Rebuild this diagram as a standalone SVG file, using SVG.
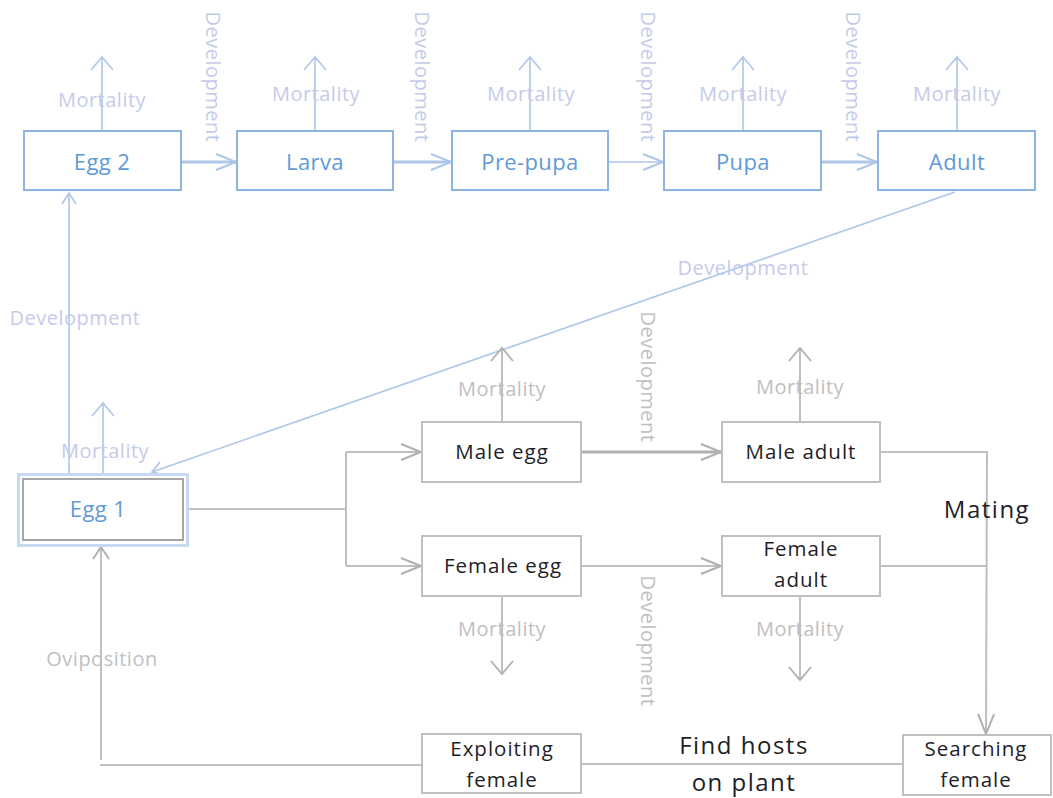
<svg xmlns="http://www.w3.org/2000/svg" width="1053" height="798" viewBox="0 0 1053 798">
<style>
.bbox{fill:#fff;stroke:#8eb4e3;stroke-width:2}
.gbox{fill:#fff;stroke:#bfbfbf;stroke-width:2}
.btxt{font-family:"Open Sans",sans-serif;font-size:22px;fill:#5f9bd6;text-anchor:middle;letter-spacing:0.4px}
.dtxt{font-family:"Open Sans",sans-serif;font-size:20.5px;fill:#1e1e28;text-anchor:middle;letter-spacing:1px}
.big{font-family:"Open Sans",sans-serif;font-size:24px;fill:#1e1e28;text-anchor:middle;letter-spacing:1.5px}
.bl{font-family:"Open Sans",sans-serif;font-size:20px;fill:#c4cbea;text-anchor:middle;letter-spacing:0.5px}
.gl{font-family:"Open Sans",sans-serif;font-size:20px;fill:#c0c0c0;text-anchor:middle;letter-spacing:0.5px}
.bc{fill:none;stroke:#adc6e9;stroke-width:1.6}
.bct{fill:none;stroke:#adc6e9;stroke-width:3}
.gc{fill:none;stroke:#bfbfbf;stroke-width:2}
.gct{fill:none;stroke:#b0b0b0;stroke-width:3}
</style>
<defs>
<marker id="bLong" markerUnits="userSpaceOnUse" orient="auto" refX="0" refY="0" markerWidth="30" markerHeight="30" overflow="visible"><path d="M-20,-8 L0,0 L-20,8" fill="none" stroke="#adc6e9" stroke-width="2"/></marker>
<marker id="bWide" markerUnits="userSpaceOnUse" orient="auto" refX="0" refY="0" markerWidth="30" markerHeight="30" overflow="visible"><path d="M-13,-11 L0,0 L-13,11" fill="none" stroke="#adc6e9" stroke-width="1.6"/></marker>
<marker id="bSmall" markerUnits="userSpaceOnUse" orient="auto" refX="0" refY="0" markerWidth="30" markerHeight="30" overflow="visible"><path d="M-11,-7 L0,0 L-11,7" fill="none" stroke="#adc6e9" stroke-width="1.6"/></marker>
<marker id="gLong" markerUnits="userSpaceOnUse" orient="auto" refX="0" refY="0" markerWidth="30" markerHeight="30" overflow="visible"><path d="M-20,-8 L0,0 L-20,8" fill="none" stroke="#b0b0b0" stroke-width="2"/></marker>
<marker id="gWide" markerUnits="userSpaceOnUse" orient="auto" refX="0" refY="0" markerWidth="30" markerHeight="30" overflow="visible"><path d="M-13,-11 L0,0 L-13,11" fill="none" stroke="#b0b0b0" stroke-width="1.8"/></marker>
<marker id="gSmall" markerUnits="userSpaceOnUse" orient="auto" refX="0" refY="0" markerWidth="30" markerHeight="30" overflow="visible"><path d="M-12,-8 L0,0 L-12,8" fill="none" stroke="#b0b0b0" stroke-width="2"/></marker>
</defs>

<g id="connectors">
  <!-- top row development -->
  <path class="bct" d="M181,162 H236" marker-end="url(#bLong)"/>
  <path class="bct" d="M393,162 H451" marker-end="url(#bLong)"/>
  <path class="bc" d="M608,162 H663" marker-end="url(#bLong)"/>
  <path class="bct" d="M821,162 H877" marker-end="url(#bLong)"/>
  <!-- top row mortality -->
  <path class="bc" d="M102,131 V57" marker-end="url(#bWide)"/>
  <path class="bc" d="M315,131 V57" marker-end="url(#bWide)"/>
  <path class="bc" d="M530,131 V57" marker-end="url(#bWide)"/>
  <path class="bc" d="M743,131 V57" marker-end="url(#bWide)"/>
  <path class="bc" d="M957,131 V57" marker-end="url(#bWide)"/>
  <!-- egg1 -->
  <path class="bc" d="M103,473 V403" marker-end="url(#bWide)"/>
  <path class="bc" d="M69,473 V193" marker-end="url(#bSmall)"/>
  <path class="bc" d="M955,192 L152,472" marker-end="url(#bSmall)"/>
  <!-- branching -->
  <path class="gc" d="M188,509 H346"/>
  <path class="gc" d="M346,452 V566"/>
  <path class="gc" d="M346,452 H421" marker-end="url(#gLong)"/>
  <path class="gc" d="M346,566 H421" marker-end="url(#gLong)"/>
  <path class="gct" d="M581,452 H721" marker-end="url(#gLong)"/>
  <path class="gc" d="M581,566 H721" marker-end="url(#gLong)"/>
  <!-- gray mortality -->
  <path class="gc" d="M502,422 V348" marker-end="url(#gWide)"/>
  <path class="gc" d="M800,422 V348" marker-end="url(#gWide)"/>
  <path class="gc" d="M502,596 V674" marker-end="url(#gWide)"/>
  <path class="gc" d="M800,596 V680" marker-end="url(#gWide)"/>
  <!-- mating -->
  <path class="gc" d="M880,452 H987 L986,734" marker-end="url(#gLong)"/>
  <path class="gc" d="M880,566 H987"/>
  <!-- find hosts / oviposition -->
  <path class="gc" d="M903,764 H581"/>
  <path class="gc" d="M422,765 H100"/>
  <path class="gc" d="M101,760 V547" marker-end="url(#gSmall)"/>
</g>

<g id="labels">
  <text class="bl" x="102" y="107">Mortality</text>
  <text class="bl" x="316" y="101">Mortality</text>
  <text class="bl" x="531" y="101">Mortality</text>
  <text class="bl" x="743" y="101">Mortality</text>
  <text class="bl" x="957" y="101">Mortality</text>
  <text class="bl" transform="translate(206,77) rotate(90)">Development</text>
  <text class="bl" transform="translate(415,77) rotate(90)">Development</text>
  <text class="bl" transform="translate(641,77) rotate(90)">Development</text>
  <text class="bl" transform="translate(846,77) rotate(90)">Development</text>
  <text class="bl" x="75" y="325">Development</text>
  <text class="bl" x="743" y="275">Development</text>
  <text class="bl" x="105" y="458">Mortality</text>
  <text class="gl" x="502" y="396">Mortality</text>
  <text class="gl" x="800" y="394">Mortality</text>
  <text class="gl" x="502" y="636">Mortality</text>
  <text class="gl" x="800" y="636">Mortality</text>
  <text class="gl" transform="translate(641,377) rotate(90)">Development</text>
  <text class="gl" transform="translate(641,641) rotate(90)">Development</text>
  <text class="gl" x="102" y="666">Oviposition</text>
  <text class="big" x="987" y="518">Mating</text>
  <text class="big" x="744" y="754">Find hosts</text>
  <text class="big" x="744" y="791">on plant</text>
</g>

<g id="egg2"><rect class="bbox" x="24" y="131" width="157" height="59"/><text class="btxt" x="102" y="170">Egg 2</text></g>
<g id="larva"><rect class="bbox" x="237" y="131" width="156" height="59"/><text class="btxt" x="315" y="170">Larva</text></g>
<g id="prepupa"><rect class="bbox" x="452" y="131" width="156" height="59"/><text class="btxt" x="530" y="170">Pre-pupa</text></g>
<g id="pupa"><rect class="bbox" x="664" y="131" width="157" height="59"/><text class="btxt" x="743" y="170">Pupa</text></g>
<g id="adult"><rect class="bbox" x="878" y="131" width="157" height="59"/><text class="btxt" x="957" y="170">Adult</text></g>

<g id="egg1">
  <rect x="18.5" y="474.5" width="169" height="71" fill="#fff" stroke="#c6d9f0" stroke-width="3"/>
  <rect x="23" y="479" width="160" height="61" fill="#fff" stroke="#a6a6a6" stroke-width="2"/>
  <text class="btxt" x="98" y="517">Egg 1</text>
</g>

<g id="maleegg"><rect class="gbox" x="422" y="422" width="159" height="60"/><text class="dtxt" x="502" y="459">Male egg</text></g>
<g id="maleadult"><rect class="gbox" x="722" y="422" width="158" height="60"/><text class="dtxt" x="801" y="459">Male adult</text></g>
<g id="femaleegg"><rect class="gbox" x="422" y="536" width="159" height="60"/><text class="dtxt" x="503" y="573">Female egg</text></g>
<g id="femaleadult"><rect class="gbox" x="722" y="536" width="158" height="60"/><text class="dtxt" x="801" y="556">Female</text><text class="dtxt" x="801" y="587">adult</text></g>
<g id="searching"><rect class="gbox" x="903" y="735" width="148" height="60"/><text class="dtxt" x="976" y="756">Searching</text><text class="dtxt" x="976" y="787">female</text></g>
<g id="exploiting"><rect class="gbox" x="422" y="734" width="159" height="59"/><text class="dtxt" x="502" y="756">Exploiting</text><text class="dtxt" x="502" y="787">female</text></g>
</svg>
